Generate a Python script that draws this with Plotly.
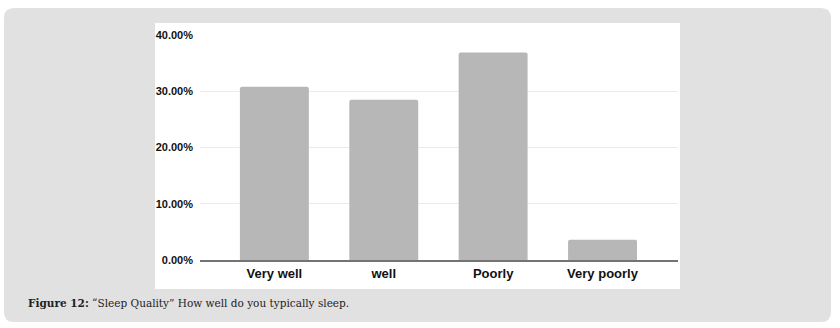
import plotly.graph_objects as go

categories = ["Very well", "well", "Poorly", "Very poorly"]
values = [30.8, 28.5, 36.9, 3.6]
y_ticks = [0, 10, 20, 30, 40]
caption_label = "Figure 12:"
caption_text = "“Sleep Quality” How well do you typically sleep."

W, H = 840, 328
L, R, T, B = 200, 162, 35, 68
PW, PH = W - L - R, H - T - B

def px(x):
    return (x - L) / PW

def py(y):
    return (H - B - y) / PH

def rounded_path(x0, y0, x1, y1, r):
    X0, X1 = px(x0), px(x1)
    Y0, Y1 = py(y0), py(y1)
    rx, ry = r / PW, r / PH
    return (f"M {X0+rx},{Y0} L {X1-rx},{Y0} Q {X1},{Y0} {X1},{Y0-ry} "
            f"L {X1},{Y1+ry} Q {X1},{Y1} {X1-rx},{Y1} "
            f"L {X0+rx},{Y1} Q {X0},{Y1} {X0},{Y1+ry} "
            f"L {X0},{Y0-ry} Q {X0},{Y0} {X0+rx},{Y0} Z")

fig = go.Figure(go.Bar(
    x=categories, y=values,
    marker=dict(color="#b7b7b7", line=dict(width=0), cornerradius=2),
    width=0.63,
))

fig.update_layout(
    width=W, height=H,
    margin=dict(l=L, r=R, t=T, b=B),
    paper_bgcolor="white",
    plot_bgcolor="rgba(0,0,0,0)",
    showlegend=False,
    bargap=0.37,
    shapes=[
        dict(type="path", xref="paper", yref="paper", layer="below",
             path=rounded_path(4, 8, 831, 322, 10),
             fillcolor="#e1e1e1", line=dict(width=0)),
        dict(type="rect", xref="paper", yref="paper", layer="below",
             x0=px(155), x1=px(680), y0=py(23), y1=py(289),
             fillcolor="white", line=dict(width=0)),
    ],
    annotations=[
        dict(xref="paper", yref="paper", x=px(26), y=py(303),
             xanchor="left", yanchor="middle", showarrow=False,
             text=f"<b>{caption_label}</b> {caption_text}",
             font=dict(family="DejaVu Serif", size=10.5, color="#222")),
    ],
)

fig.update_xaxes(
    range=[-0.68, 3.69],
    showline=True, linecolor="#737373", linewidth=2,
    showgrid=False, ticks="",
    tickfont=dict(family="Liberation Sans", size=13, color="#111", weight="bold"),
    ticklabelstandoff=0,
)
fig.update_yaxes(
    range=[0, 40], tickvals=y_ticks,
    ticktext=[f"{v:.2f}%" for v in y_ticks],
    showgrid=True, gridcolor="#ebebeb", gridwidth=1,
    zeroline=False, ticks="",
    tickfont=dict(family="Liberation Sans", size=11, color="#111", weight="bold"),
    ticklabelstandoff=6,
)

fig.write_html("out.html")
